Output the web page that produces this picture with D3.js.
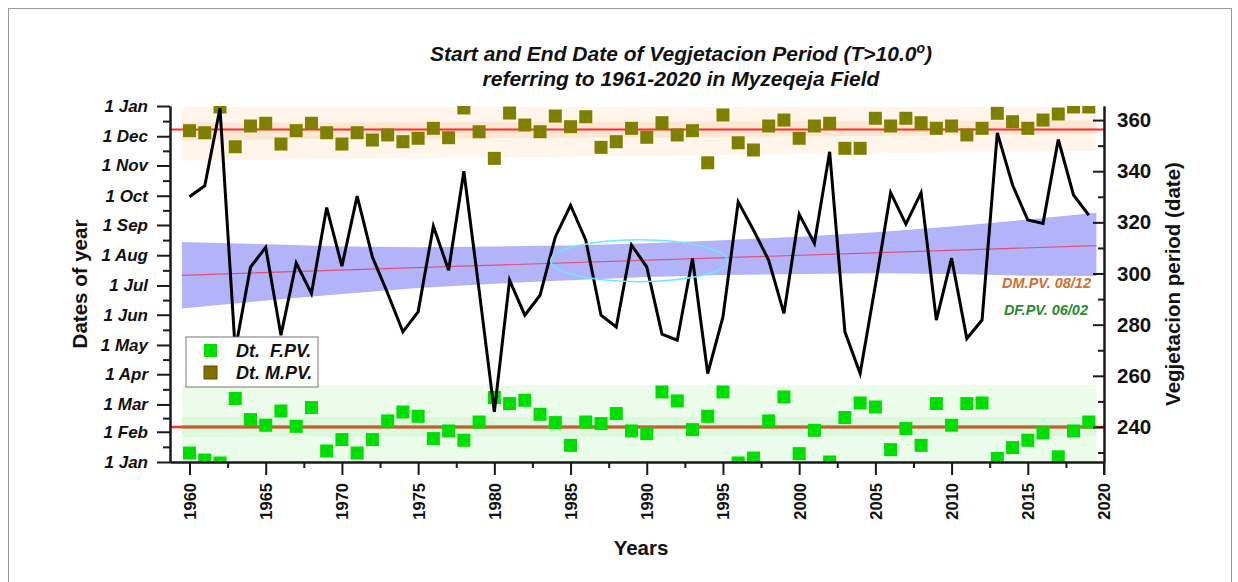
<!DOCTYPE html>
<html>
<head>
<meta charset="utf-8">
<script src="https://cdn.jsdelivr.net/npm/d3@7"></script>
<style>
  body { margin: 0; background: #fff; }
  svg text { font-family: "Liberation Sans", Arial, sans-serif; fill: #111; }
</style>
</head>
<body>
<div id="chart"></div>
<script>
// ---- data ----
const years = [1960,1961,1962,1963,1964,1965,1966,1967,1968,1969,
               1970,1971,1972,1973,1974,1975,1976,1977,1978,1979,
               1980,1981,1982,1983,1984,1985,1986,1987,1988,1989,
               1990,1991,1992,1993,1994,1995,1996,1997,1998,1999,
               2000,2001,2002,2003,2004,2005,2006,2007,2008,2009,
               2010,2011,2012,2013,2014,2015,2016,2017,2018,2019];

// length of vegetation period, days (right axis)
const vegPeriod = [330.0,334.3,364.6,270.0,302.5,310.2,275.9,304.1,292.2,325.8,
                   302.9,330.3,306.4,292.3,277.2,285.0,318.5,301.3,340.0,293.5,
                   245.9,297.4,283.7,291.5,314.3,326.7,313.0,283.7,279.1,311.1,
                   302.6,276.3,273.9,305.9,260.9,283.0,328.0,317.0,305.2,284.4,
                   323.2,311.8,347.6,277.2,260.9,295.4,331.6,319.3,331.6,281.8,
                   306.0,274.6,281.8,355.0,334.6,320.9,319.6,352.4,330.7,322.8];

// end date (Dt. M.PV.), days after 1 Jan (left axis)
const endDates = [339.7,337.6,364.0,323.2,344.5,347.3,326.0,339.7,347.3,337.6,
                  326.0,337.6,330.1,335.3,328.4,331.9,342.1,332.5,363.0,338.6,
                  311.3,357.8,345.5,338.6,354.7,343.8,354.0,322.6,328.4,342.1,
                  332.9,347.9,335.3,339.7,306.8,355.8,327.3,319.9,344.5,350.6,
                  331.9,344.5,347.3,321.6,321.6,352.4,344.5,352.4,347.9,342.1,
                  344.5,335.3,342.1,357.5,348.9,342.1,350.6,356.8,364.0,364.0];

// start date (Dt. F.PV.), days after 1 Jan (left axis)
const startDates = [9.2,2.0,-1.0,65.1,43.5,37.7,52.3,36.6,55.8,11.3,
                    23.0,9.2,23.0,42.1,51.3,46.9,24.0,31.8,22.3,41.0,
                    66.1,59.9,63.3,48.9,40.4,17.1,41.0,39.4,49.7,31.8,
                    29.1,71.8,62.6,33.2,46.9,71.8,-1.0,4.0,42.1,66.7,
                    8.6,32.5,0.0,45.6,60.5,56.4,12.7,34.3,17.1,59.9,
                    37.7,59.9,60.5,3.6,14.8,22.3,29.8,5.3,31.8,41.0];

// mean dates (days after 1 Jan)
const meanEnd = 341;    // 08/12
const meanStart = 36;   // 06/02

// trend band of the vegetation period (right axis)
const bandYears  = [1959.5,1965,1970,1975,1980,1985,1990,1995,2000,2005,2010,2015,2019.5];
const bandTop    = [312.3,311.4,310.6,310.3,310.6,311.0,311.8,313.0,314.4,316.1,318.4,321.1,323.8];
const bandBottom = [286.3,289.4,292.0,294.3,296.0,297.4,298.6,299.4,299.8,300.1,299.8,299.1,299.0];
const trendYears = [1959.5, 2019.5];
const trendVals  = [299.3, 310.9];

// spread bands of the dates (left axis)
const spreadYears    = [1959.5, 2019.5];
const endOuterTop    = [364, 364];
const endOuterBottom = [309, 319];
const endInnerTop    = [348, 350];
const endInnerBottom = [330, 336];
const startOuterTop    = [78.7, 78.7];
const startOuterBottom = [-5, -5];
const startInnerTop    = [46.2, 46.2];
const startInnerBottom = [25.7, 26.5];

// highlighted ellipse: centre year, centre value, half width (years), half height (days)
const ellipse = [1989.5, 305, 5.8, 8.2];

const monthTicks  = [0,31,59,90,120,151,181,212,243,273,304,334,365];
const monthLabels = ["1 Jan","1 Feb","1 Mar","1 Apr","1 May","1 Jun","1 Jul",
                     "1 Aug","1 Sep","1 Oct","1 Nov","1 Dec","1 Jan"];
const yearTicks = [1960,1965,1970,1975,1980,1985,1990,1995,2000,2005,2010,2015,2020];
const periodTicks = [240,260,280,300,320,340,360];

// ---- chart ----
const width = 1238, height = 582;
const plot = {left: 170, right: 1104, top: 106, bottom: 462};

const svg = d3.select("#chart").append("svg")
    .attr("width", width)
    .attr("height", height);

svg.append("rect")
    .attr("x", 8.5).attr("y", 8.5)
    .attr("width", 1223).attr("height", 620)
    .attr("fill", "none")
    .attr("stroke", "#9a9a9a");

const x = d3.scaleLinear().domain([1958.72, 2020]).range([plot.left, plot.right]);
const yL = d3.scaleLinear().domain([0, 365]).range([plot.bottom, plot.top]);
const yR = d3.scaleLinear().domain([226.3, 365.5]).range([plot.bottom, plot.top]);

svg.append("clipPath").attr("id", "clip")
    .append("rect")
    .attr("x", plot.left).attr("y", plot.top)
    .attr("width", plot.right - plot.left)
    .attr("height", plot.bottom - plot.top);

const g = svg.append("g").attr("clip-path", "url(#clip)");

// helper for a band between two arrays
function band(xs, lo, hi, scale, fill) {
    let pts = xs.map((d, i) => ({x: d, lo: lo[i], hi: hi[i]}));
    g.append("path")
        .datum(pts)
        .attr("fill", fill)
        .attr("d", d3.area()
            .x(d => x(d.x))
            .y0(d => scale(d.lo))
            .y1(d => scale(d.hi)));
}

band(spreadYears, endOuterBottom, endOuterTop, yL, "#fff5ea");
band(spreadYears, endInnerBottom, endInnerTop, yL, "#fde6d2");
band(spreadYears, startOuterBottom, startOuterTop, yL, "#ebfceb");
band(spreadYears, startInnerBottom, startInnerTop, yL, "#ddf8dd");
band(bandYears, bandBottom, bandTop, yR, "#b3b3fa");

// trend line of vegetation period
g.append("path")
    .datum(trendYears.map((d, i) => [d, trendVals[i]]))
    .attr("fill", "none")
    .attr("stroke", "#e0507a")
    .attr("stroke-width", 1.2)
    .attr("d", d3.line().x(d => x(d[0])).y(d => yR(d[1])));

// mean lines
g.append("line")
    .attr("x1", plot.left).attr("x2", plot.right)
    .attr("y1", yL(meanEnd)).attr("y2", yL(meanEnd))
    .attr("stroke", "#ff2a2a").attr("stroke-width", 2);
g.append("line")
    .attr("x1", plot.left).attr("x2", plot.right)
    .attr("y1", yL(meanStart)).attr("y2", yL(meanStart))
    .attr("stroke", "#ff2a2a").attr("stroke-width", 2.5);
g.append("line")
    .attr("x1", x(spreadYears[0])).attr("x2", x(spreadYears[1]))
    .attr("y1", yL(meanStart)).attr("y2", yL(meanStart))
    .attr("stroke", "#b8652e").attr("stroke-width", 3);

// squares
const sq = 13;
g.selectAll(".end-sq")
    .data(endDates)
    .enter().append("rect")
    .attr("class", "end-sq")
    .attr("x", (d, i) => x(years[i]) - sq / 2)
    .attr("y", d => yL(d) - sq / 2)
    .attr("width", sq).attr("height", sq)
    .attr("fill", "#808000");

g.selectAll(".start-sq")
    .data(startDates)
    .enter().append("rect")
    .attr("class", "start-sq")
    .attr("x", (d, i) => x(years[i]) - sq / 2)
    .attr("y", d => yL(d) - sq / 2)
    .attr("width", sq).attr("height", sq)
    .attr("fill", "#00dd00");

// vegetation period line
g.append("path")
    .datum(vegPeriod)
    .attr("fill", "none")
    .attr("stroke", "#000")
    .attr("stroke-width", 3)
    .attr("stroke-linejoin", "miter")
    .attr("d", d3.line().x((d, i) => x(years[i])).y(d => yR(d)));

// ellipse mark
g.append("ellipse")
    .attr("cx", x(ellipse[0]))
    .attr("cy", yR(ellipse[1]))
    .attr("rx", x(ellipse[0] + ellipse[2]) - x(ellipse[0]))
    .attr("ry", yR(ellipse[1] - ellipse[3]) - yR(ellipse[1]))
    .attr("fill", "none")
    .attr("stroke", "#70e6ff")
    .attr("stroke-width", 1.5);

// ---- axes ----
function styleAxis(sel) {
    sel.selectAll("path.domain").attr("stroke", "#1a1a1a").attr("stroke-width", 2);
    sel.selectAll(".tick line").attr("stroke", "#1a1a1a").attr("stroke-width", 2);
}

// left
let minorMonths = [];
for (let i = 0; i < monthTicks.length - 1; i++) {
    minorMonths.push((monthTicks[i] + monthTicks[i + 1]) / 2);
}
const leftMinor = svg.append("g")
    .attr("transform", "translate(" + plot.left + ",0)")
    .call(d3.axisLeft(yL).tickValues(minorMonths).tickSize(7).tickSizeOuter(0).tickFormat(""));
styleAxis(leftMinor);
const leftAxis = svg.append("g")
    .attr("transform", "translate(" + plot.left + ",0)")
    .call(d3.axisLeft(yL).tickValues(monthTicks).tickSize(13).tickSizeOuter(0).tickPadding(9)
        .tickFormat((d, i) => monthLabels[i]));
styleAxis(leftAxis);
leftAxis.selectAll("text")
    .style("font-size", "17px")
    .style("font-weight", "bold")
    .style("font-style", "italic");

// right
let minorPeriod = periodTicks.map(d => d - 10);
const rightMinor = svg.append("g")
    .attr("transform", "translate(" + plot.right + ",0)")
    .call(d3.axisRight(yR).tickValues(minorPeriod).tickSize(-6).tickSizeOuter(0).tickFormat(""));
styleAxis(rightMinor);
const rightAxis = svg.append("g")
    .attr("transform", "translate(" + plot.right + ",0)")
    .call(d3.axisRight(yR).tickValues(periodTicks).tickSize(-11).tickSizeOuter(0).tickPadding(13));
styleAxis(rightAxis);
rightAxis.selectAll("text")
    .style("font-size", "20.5px")
    .style("font-weight", "bold");

// bottom
const minorYears = yearTicks.slice(0, -1).map(d => d + 2.5);
const bottomMinor = svg.append("g")
    .attr("transform", "translate(0," + plot.bottom + ")")
    .call(d3.axisBottom(x).tickValues(minorYears).tickSize(6).tickSizeOuter(0).tickFormat(""));
styleAxis(bottomMinor);
const bottomAxis = svg.append("g")
    .attr("transform", "translate(0," + plot.bottom + ")")
    .call(d3.axisBottom(x).tickValues(yearTicks).tickSize(13).tickSizeOuter(0).tickFormat(d3.format("d")));
styleAxis(bottomAxis);
bottomAxis.selectAll("text")
    .attr("transform", "rotate(-90)")
    .attr("text-anchor", "end")
    .attr("x", -21)
    .attr("y", 0)
    .attr("dy", "0.36em")
    .style("font-size", "16.5px")
    .style("font-weight", "bold");

// right axis line running down to the bottom tick length
svg.append("line")
    .attr("x1", plot.right).attr("x2", plot.right)
    .attr("y1", plot.bottom).attr("y2", plot.bottom + 13)
    .attr("stroke", "#1a1a1a").attr("stroke-width", 2);

// ---- titles ----
const title = svg.append("text")
    .attr("x", 681).attr("y", 61)
    .attr("text-anchor", "middle")
    .style("font-size", "21px")
    .style("font-weight", "bold")
    .style("font-style", "italic");
title.append("tspan").text("Start and End Date of Vegjetacion Period (T>10.0");
title.append("tspan").attr("dy", -8).style("font-size", "14px").text("o");
title.append("tspan").attr("dy", 8).text(")");

svg.append("text")
    .attr("x", 681).attr("y", 86)
    .attr("text-anchor", "middle")
    .style("font-size", "21px")
    .style("font-weight", "bold")
    .style("font-style", "italic")
    .text("referring to 1961-2020 in Myzeqeja Field");

svg.append("text")
    .attr("transform", "translate(87,284) rotate(-90)")
    .attr("text-anchor", "middle")
    .style("font-size", "20.5px")
    .style("font-weight", "bold")
    .text("Dates of year");

svg.append("text")
    .attr("transform", "translate(1180,284) rotate(-90)")
    .attr("text-anchor", "middle")
    .style("font-size", "20.5px")
    .style("font-weight", "bold")
    .text("Vegjetacion period (date)");

svg.append("text")
    .attr("x", 641).attr("y", 555)
    .attr("text-anchor", "middle")
    .style("font-size", "20.5px")
    .style("font-weight", "bold")
    .text("Years");

// mean labels
svg.append("text")
    .attr("x", 1091).attr("y", 288)
    .attr("text-anchor", "end")
    .style("font-size", "14.5px")
    .style("font-weight", "bold")
    .style("font-style", "italic")
    .style("fill", "#cc7030")
    .text("DM.PV. 08/12");
svg.append("text")
    .attr("x", 1088).attr("y", 315)
    .attr("text-anchor", "end")
    .style("font-size", "14.5px")
    .style("font-weight", "bold")
    .style("font-style", "italic")
    .style("fill", "#2a8a2a")
    .text("DF.PV. 06/02");

// ---- legend ----
const legend = svg.append("g").attr("transform", "translate(186,337)");
legend.append("rect")
    .attr("width", 132).attr("height", 50)
    .attr("fill", "#fff")
    .attr("stroke", "#777");
const legendItems = [
    {label: "Dt.  F.PV.", color: "#00dd00", stroke: "none"},
    {label: "Dt. M.PV.", color: "#807000", stroke: "#5a5000"}
];
legendItems.forEach(function(d, i) {
    legend.append("rect")
        .attr("x", 18).attr("y", 7 + i * 22)
        .attr("width", 13).attr("height", 13)
        .attr("fill", d.color)
        .attr("stroke", d.stroke);
    legend.append("text")
        .attr("x", 50).attr("y", 20 + i * 22)
        .style("font-size", "18px")
        .style("font-weight", "bold")
        .style("font-style", "italic")
        .style("white-space", "pre")
        .text(d.label);
});
</script>
</body>
</html>
